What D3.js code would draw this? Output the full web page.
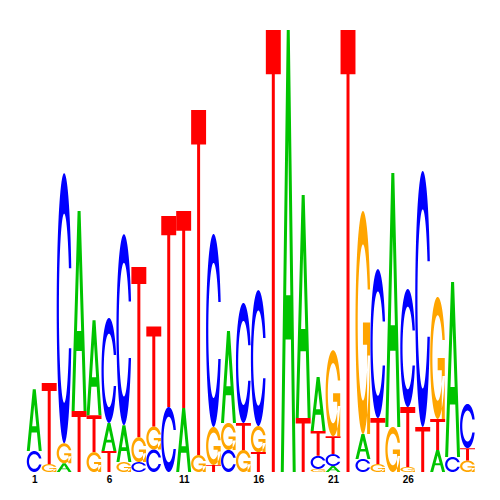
<!DOCTYPE html>
<html>
<head>
<meta charset="utf-8">
<script src="https://cdn.jsdelivr.net/npm/d3@7"></script>
<style>
  body { margin: 0; background: #fff; }
  .tick text { font-family: "Liberation Sans", Arial, sans-serif; font-weight: bold; }
</style>
</head>
<body>
<svg id="logo" width="500" height="500"></svg>
<script>
// information content (bits) per position for each base
const positions = d3.range(1, 31);
const bitsA = [0.28, 0, 0.04, 0.905, 0.43, 0.127, 0.167, 0, 0, 0,
               0.29, 0, 0, 0.416, 0, 0, 0, 2.0, 1.009, 0.244,
               0.027, 0, 0.113, 0, 1.149, 0, 0, 0.1, 0.792, 0];
const bitsC = [0.095, 0, 1.222, 0, 0, 0.475, 0.864, 0.045, 0.102, 0.294,
               0, 0, 0.873, 0.1, 0.543, 0.615, 0, 0, 0, 0.059,
               0.054, 0, 0.059, 0.674, 0, 0.534, 1.158, 0, 0.068, 0.2];
const bitsG = [0, 0.036, 0.09, 0, 0.09, 0, 0.045, 0.113, 0.104, 0,
               0, 0.077, 0.172, 0.122, 0.1, 0.118, 0, 0, 0, 0.014,
               0.389, 0, 1.009, 0.036, 0.204, 0.023, 0, 0.552, 0, 0.052];
const bitsT = [0, 0.367, 0, 0.276, 0.167, 0.095, 0, 0.77, 0.452, 0.864,
               0.891, 1.561, 0.032, 0, 0.122, 0.09, 2.0, 0, 0.244, 0.113,
               0.081, 2.0, 0, 0.208, 0, 0.271, 0.204, 0.14, 0, 0.056];
const tickPositions = [1, 6, 11, 16, 21, 26];

const colors = { A: "#00c400", C: "#0000ff", G: "#ffa500", T: "#ff0000" };

const svg = d3.select("#logo");

const x = d3.scaleLinear().domain([0.5, 30.5]).range([26.8, 475]);
const y = d3.scaleLinear().domain([0, 2]).range([472, 30]);

// letter outlines in a unit box (seqLogo style), y pointing up
function cShape() {
    const a1 = d3.range(100).map(i => 0.3 + Math.PI / 2 + i * (Math.PI / 2 - 0.3) / 99);
    const a2 = d3.range(100).map(i => Math.PI + i * (Math.PI / 2) / 99);
    const outer = a1.concat(a2).map(a => [0.5 + 0.5 * Math.sin(a), 0.5 + 0.5 * Math.cos(a)]);
    const hmax = d3.max(a1, a => 0.5 + 0.5 * Math.cos(a));
    let inner1 = a1.map(a => [0.5 + 0.35 * Math.sin(a), 0.5 + 0.35 * Math.cos(a)])
        .filter(p => p[1] <= hmax);
    inner1[0] = [inner1[0][0], hmax];
    const inner2 = a2.map(a => [0.5 + 0.35 * Math.sin(a), 0.5 + 0.35 * Math.cos(a)]);
    const inner = inner1.concat(inner2);
    const o = outer.concat(outer.slice().reverse().map(p => [p[0], 1 - p[1]]));
    const i = inner.concat(inner.slice().reverse().map(p => [p[0], 1 - p[1]]));
    return [o.concat(i.reverse())];
}

function gShape() {
    const r1 = 0.5 + 0.5 * Math.sin(0.3 + Math.PI / 2);
    const h1 = 0.5;
    const bar = [[r1, h1], [0.5, h1], [0.5, h1 - 0.1], [r1 - 0.2, h1 - 0.1], [r1 - 0.2, 0], [r1, 0]];
    return cShape().concat([bar]);
}

const shapes = {
    A: [[[0, 0], [0.4, 1], [0.6, 1], [1, 0], [0.8, 0], [0.68, 0.3], [0.32, 0.3], [0.2, 0]],
        [[0.36, 0.4], [0.5, 0.75], [0.64, 0.4]]],
    C: cShape(),
    G: gShape(),
    T: [[[0, 1], [1, 1], [1, 0.9], [0.6, 0.9], [0.6, 0], [0.4, 0], [0.4, 0.9], [0, 0.9]]]
};

// build stacks, smallest letter at the bottom
const stacks = positions.map((p, i) => {
    let letters = [
        { base: "A", bits: bitsA[i] },
        { base: "C", bits: bitsC[i] },
        { base: "G", bits: bitsG[i] },
        { base: "T", bits: bitsT[i] }
    ].filter(d => d.bits > 0).sort((a, b) => a.bits - b.bits);
    let y0 = 0;
    for (let l of letters) {
        l.pos = p;
        l.y0 = y0;
        l.y1 = y0 + l.bits;
        y0 = l.y1;
    }
    return letters;
});

function letterPath(d) {
    const x0 = x(d.pos - 0.5), w = x(d.pos + 0.5) - x(d.pos - 0.5);
    const line = d3.line()
        .x(p => x0 + p[0] * w)
        .y(p => y(d.y0 + p[1] * (d.y1 - d.y0)));
    return shapes[d.base].map(poly => line(poly) + "Z").join("");
}

svg.append("g")
    .selectAll("path")
    .data(stacks.flat())
    .enter()
    .append("path")
    .attr("d", letterPath)
    .attr("fill", d => colors[d.base])
    .attr("fill-rule", "evenodd");

const axis = svg.append("g")
    .attr("transform", "translate(0, 474)")
    .call(d3.axisBottom(x).tickValues(tickPositions).tickSize(0).tickPadding(2).tickFormat(d3.format("d")));
axis.select(".domain").remove();
axis.selectAll("text").attr("font-size", 10).attr("fill", "#000");
</script>
</body>
</html>
